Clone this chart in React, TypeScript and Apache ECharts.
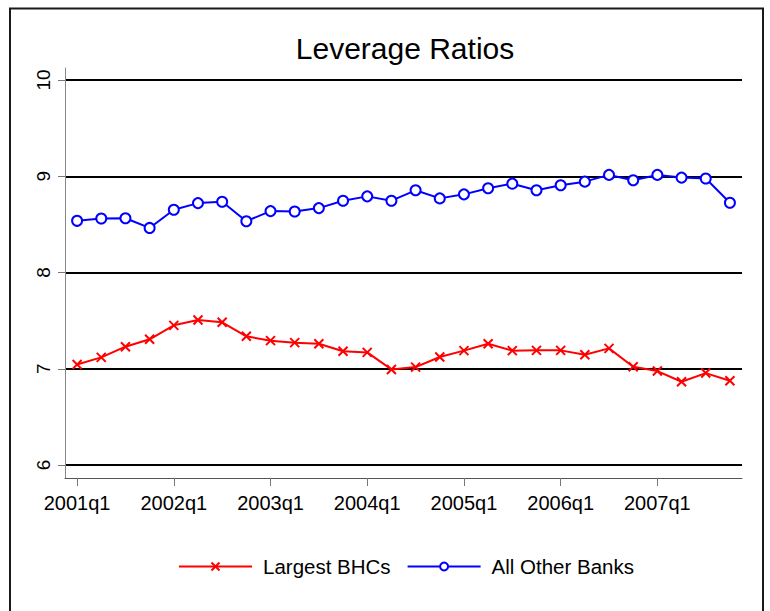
import React, { useEffect, useRef } from "react";
import * as echarts from "echarts";

const quarters: string[] = [
  "2001q1", "2001q2", "2001q3", "2001q4",
  "2002q1", "2002q2", "2002q3", "2002q4",
  "2003q1", "2003q2", "2003q3", "2003q4",
  "2004q1", "2004q2", "2004q3", "2004q4",
  "2005q1", "2005q2", "2005q3", "2005q4",
  "2006q1", "2006q2", "2006q3", "2006q4",
  "2007q1", "2007q2", "2007q3", "2007q4",
];

const largestBHCs: number[] = [
  7.045, 7.118, 7.229, 7.306, 7.451, 7.507, 7.483, 7.337,
  7.292, 7.271, 7.26, 7.181, 7.17, 6.993, 7.017, 7.122,
  7.188, 7.26, 7.188, 7.191, 7.191, 7.146, 7.212, 7.021,
  6.976, 6.865, 6.955, 6.875,
];

const allOtherBanks: number[] = [
  8.537, 8.561, 8.564, 8.463, 8.652, 8.721, 8.735, 8.533,
  8.638, 8.634, 8.669, 8.746, 8.791, 8.746, 8.854, 8.77,
  8.812, 8.875, 8.923, 8.854, 8.906, 8.944, 9.014, 8.958,
  9.014, 8.986, 8.976, 8.725,
];

const seriesNames: string[] = ["Largest BHCs", "All Other Banks"];
const titleText = "Leverage Ratios";

const FONT = "'Liberation Sans', Arial, Helvetica, sans-serif";

export default function App() {
  const ref = useRef<HTMLDivElement>(null);

  useEffect(() => {
    if (!ref.current) return;
    const chart = echarts.init(ref.current, null, { renderer: "svg" });
    const option: any = {
      animation: false,
      backgroundColor: "#ffffff",
      textStyle: { fontFamily: FONT },
      title: {
        text: titleText,
        left: 400,
        textAlign: "center",
        top: 28,
        textStyle: { fontFamily: FONT, fontSize: 30, fontWeight: "normal", color: "#000" },
      },
      legend: {
        data: seriesNames,
        left: 178,
        top: 556,
        padding: 0,
        itemWidth: 73,
        itemHeight: 10,
        itemGap: 16,
        textStyle: { fontFamily: FONT, fontSize: 20.5, color: "#000", padding: [0, 0, 0, 6] },
      },
      graphic: [
        {
          type: "rect",
          shape: { x: 10, y: 8.5, width: 753, height: 640 },
          style: { fill: "none", stroke: "#1a1a1a", lineWidth: 2 },
          silent: true,
        },
      ],
      grid: [
        { left: 65, right: 28, top: 80, bottom: 146 },
        { left: 65, right: 28, top: 68, bottom: 133 },
      ],
      xAxis: [
        {
          gridIndex: 0,
          type: "category",
          data: quarters,
          boundaryGap: true,
          show: false,
        },
        {
          gridIndex: 1,
          type: "category",
          data: quarters,
          boundaryGap: true,
          axisLine: { show: true, lineStyle: { color: "#555", width: 1 } },
          axisTick: {
            show: true,
            alignWithLabel: true,
            interval: 3,
            length: 8,
            lineStyle: { color: "#777", width: 1 },
          },
          axisLabel: {
            interval: 3,
            margin: 15,
            fontSize: 20,
            fontFamily: FONT,
            color: "#000",
          },
          splitLine: { show: false },
        },
      ],
      yAxis: [
        {
          gridIndex: 0,
          type: "value",
          min: 6,
          max: 10,
          interval: 1,
          axisLine: { show: false },
          axisTick: { show: true, length: 7, lineStyle: { color: "#777", width: 1 } },
          axisLabel: {
            rotate: 90,
            margin: 12,
            fontSize: 19,
            fontFamily: FONT,
            color: "#000",
          },
          splitLine: { show: true, lineStyle: { color: "#000", width: 2 } },
        },
        {
          gridIndex: 1,
          type: "value",
          min: 0,
          max: 1,
          axisLine: { show: true, lineStyle: { color: "#888", width: 1 } },
          axisTick: { show: false },
          axisLabel: { show: false },
          splitLine: { show: false },
        },
      ],
      series: [
        {
          name: seriesNames[0],
          type: "line",
          xAxisIndex: 0,
          yAxisIndex: 0,
          data: largestBHCs,
          symbol: "path://M0,0L10,10M10,0L0,10",
          symbolSize: 9,
          showAllSymbol: true,
          lineStyle: { color: "#ff0000", width: 2 },
          itemStyle: { color: "#ff0000", borderColor: "#ff0000", borderWidth: 2 },
          z: 3,
        },
        {
          name: seriesNames[1],
          type: "line",
          xAxisIndex: 0,
          yAxisIndex: 0,
          data: allOtherBanks,
          symbol: "emptyCircle",
          symbolSize: 10,
          showAllSymbol: true,
          lineStyle: { color: "#0000ff", width: 2 },
          itemStyle: { color: "#0000ff", borderColor: "#0000ff", borderWidth: 2 },
          z: 3,
        },
      ],
    };
    chart.setOption(option);
    return () => chart.dispose();
  }, []);

  return (
    <div
      ref={ref}
      style={{ position: "fixed", left: 0, top: 0, width: 770, height: 611, background: "#fff" }}
    />
  );
}
